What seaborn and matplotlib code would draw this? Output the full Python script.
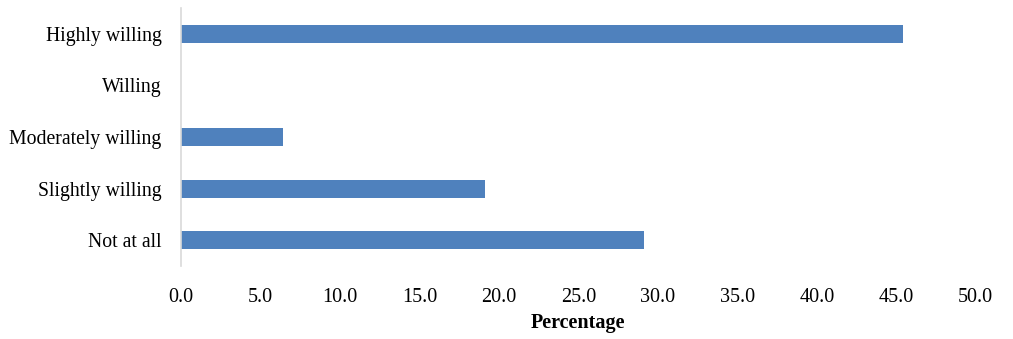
import matplotlib
matplotlib.use("Agg")
import matplotlib.pyplot as plt
import seaborn as sns
import pandas as pd

categories = ["Highly willing", "Willing", "Moderately willing", "Slightly willing", "Not at all"]
values = [45.4, 0.0, 6.4, 19.1, 29.1]
xticks = [0, 5, 10, 15, 20, 25, 30, 35, 40, 45, 50]

sns.set_theme(style="white")
plt.rcParams['font.family'] = ['Liberation Serif', 'DejaVu Serif']
plt.rcParams['text.color'] = 'black'
plt.rcParams['xtick.color'] = 'black'
plt.rcParams['ytick.color'] = 'black'
plt.rcParams['axes.labelcolor'] = 'black'

df = pd.DataFrame({"category": categories, "value": values})

fig = plt.figure(figsize=(10.13, 3.39), dpi=100)
ax = fig.add_axes([0.1787, 0.2153, 0.7845, 0.7611])
sns.barplot(data=df, x="value", y="category", order=categories, orient="h",
            color="#4F81BD", width=0.35, linewidth=0,
            saturation=1, ax=ax)
ax.set_xlim(0, 50)
ax.set_ylim(4.5, -0.5)
ax.set_xticks(xticks)
ax.set_xticklabels([f"{v:.1f}" for v in xticks], fontsize=14.5)
ax.tick_params(axis="y", labelsize=14.2, length=0, pad=14)
ax.tick_params(axis="x", length=0, pad=16)
ax.set_ylabel("")
ax.set_xlabel("Percentage", fontsize=14.5, fontweight="bold", labelpad=4)
for s in ["top", "right", "bottom"]:
    ax.spines[s].set_visible(False)
ax.spines["left"].set_color("#D9D9D9")
ax.spines["left"].set_linewidth(1.2)
fig.savefig("out.png", dpi=100)
